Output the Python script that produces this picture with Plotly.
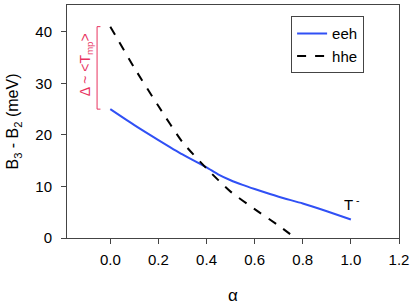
import plotly.graph_objects as go

alpha = [0.0, 0.1, 0.2, 0.3, 0.4, 0.45, 0.5, 0.55, 0.6, 0.7, 0.8, 0.9, 1.0]
eeh = [25.0, 21.9, 19.0, 16.2, 13.7, 12.3, 11.2, 10.3, 9.5, 8.0, 6.7, 5.2, 3.6]

alpha_hhe = [0.0, 0.1, 0.2, 0.3, 0.4, 0.5, 0.6, 0.7, 0.76]
hhe = [41.0, 33.0, 25.6, 18.6, 13.5, 9.0, 5.6, 2.4, 0.3]

x_ticks = [0.0, 0.2, 0.4, 0.6, 0.8, 1.0, 1.2]
y_ticks = [0, 10, 20, 30, 40]

FONT = "Liberation Sans, Arial, sans-serif"
RED = "#e8335f"

fig = go.Figure()
fig.add_trace(go.Scatter(x=alpha, y=eeh, mode="lines", name="eeh",
                         line=dict(color="#3050f5", width=2, shape="spline", smoothing=0.6)))
fig.add_trace(go.Scatter(x=alpha_hhe, y=hhe, mode="lines", name="hhe",
                         line=dict(color="black", width=2, dash="dash",
                                   shape="spline", smoothing=0.6)))

# bracket spanning the gap between the curves at alpha = 0
y_lo, y_hi = eeh[0], hhe[0]
bx, bx2 = -0.055, -0.041
fig.add_shape(type="path",
              path=f"M {bx2},{y_hi} L {bx},{y_hi} L {bx},{y_lo} L {bx2},{y_lo}",
              xref="x", yref="y", line=dict(color=RED, width=1))
fig.add_annotation(x=-0.101, y=(y_lo + y_hi) / 2 + 0.5, xref="x", yref="y",
                   text="Δ ~ &lt;T<sub>mp</sub>&gt;", showarrow=False, textangle=-90,
                   font=dict(color=RED, size=14, family=FONT))
fig.add_annotation(x=1.005, y=6.6, xref="x", yref="y", text="T<sup> -</sup>",
                   showarrow=False, font=dict(color="black", size=15, family=FONT))

fig.update_layout(
    width=415, height=306,
    margin=dict(l=67, r=16, t=5, b=68),
    paper_bgcolor="white", plot_bgcolor="white",
    font=dict(family=FONT, size=15, color="black"),
    showlegend=True,
    legend=dict(x=0.675, y=0.952, xanchor="left", yanchor="top",
                bordercolor="#444", borderwidth=1, bgcolor="white",
                entrywidth=80, entrywidthmode="pixels",
                font=dict(size=15, family=FONT), tracegroupgap=0),
)
fig.update_xaxes(range=[-0.18, 1.2], tickvals=x_ticks,
                 ticktext=[f"{v:.1f}" for v in x_ticks],
                 showgrid=False, zeroline=False, showline=True, mirror=True,
                 linecolor="#444", linewidth=1, ticks="outside", ticklen=5,
                 tickcolor="#444", ticklabelstandoff=3, automargin=False,
                 title=dict(text="α", font=dict(size=17, family=FONT), standoff=22))
fig.update_yaxes(range=[0, 45.2], tickvals=y_ticks,
                 showgrid=False, zeroline=False, showline=True, mirror=True,
                 linecolor="#444", linewidth=1, ticks="outside", ticklen=5,
                 tickcolor="#444", ticklabelstandoff=6, automargin=False,
                 title=dict(text="B<sub>3</sub> - B<sub>2</sub> (meV)",
                            font=dict(size=16, family=FONT), standoff=12))

fig.write_html("out.html", config={"displayModeBar": False},
               post_script="document.body.style.margin='0';document.body.style.padding='0';")
